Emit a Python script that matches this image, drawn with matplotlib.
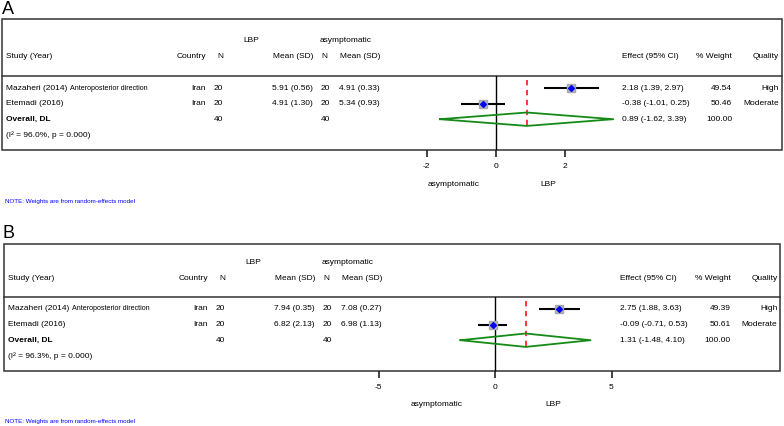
#!/usr/bin/env python3
import matplotlib
matplotlib.use('Agg')
from matplotlib import pyplot as plt
from matplotlib.patches import Rectangle

plt.rcParams['font.family'] = ['Liberation Sans', 'DejaVu Sans']
plt.rcParams['axes.unicode_minus'] = False

W, H = 784, 426

# shared study info
studies = ['Mazaheri (2014)', 'Etemadi (2016)']
subnote = ['Anteroposterior direction', '']
country = ['Iran', 'Iran']
quality = ['High', 'Moderate']
n_lbp = [20, 20]
n_asym = [20, 20]

# panel A
a_lbp_mean = [5.91, 4.91]
a_lbp_sd = [0.56, 1.30]
a_asym_mean = [4.91, 5.34]
a_asym_sd = [0.33, 0.93]
a_es = [2.18, -0.38]
a_lo = [1.39, -1.01]
a_hi = [2.97, 0.25]
a_wt = [49.54, 50.46]
a_pool = [0.89, -1.62, 3.39]
a_i2 = 96.0
a_ticks = [-2, 0, 2]

# panel B
b_lbp_mean = [7.94, 6.82]
b_lbp_sd = [0.35, 2.13]
b_asym_mean = [7.08, 6.98]
b_asym_sd = [0.27, 1.13]
b_es = [2.75, -0.09]
b_lo = [1.88, -0.71]
b_hi = [3.63, 0.53]
b_wt = [49.39, 50.61]
b_pool = [1.31, -1.48, 4.10]
b_i2 = 96.3
b_ticks = [-5, 0, 5]

FS = 6.0
ROW = 15.6


def draw_panel(fig, bg, label, lay, lbp_mean, lbp_sd, asym_mean, asym_sd,
               es, lo, hi, wt, pool, i2, ticks):
    dl, dr = lay['dl'], lay['dr']
    bg.text(2, lay['label'], label, fontsize=13, va='center', ha='left')
    # frame
    bg.add_patch(Rectangle((lay['left'], lay['top']), lay['right'] - lay['left'],
                           lay['bottom'] - lay['top'], fill=False, lw=1.1, ec='#333333'))
    bg.plot([lay['left'], lay['right']], [lay['sep'], lay['sep']], color='#333333', lw=1.1)

    # headers
    h1, h2 = lay['h1'], lay['h2']
    bg.text(243 + dl, h1, 'LBP', fontsize=FS, va='center')
    bg.text(320 + dl, h1, 'asymptomatic', fontsize=FS, va='center')
    bg.text(6 + dl, h2, 'Study (Year)', fontsize=FS, va='center')
    bg.text(206 + dl, h2, 'Country', fontsize=FS, va='center', ha='right')
    bg.text(223 + dl, h2, 'N', fontsize=FS, va='center', ha='right')
    bg.text(313 + dl, h2, 'Mean (SD)', fontsize=FS, va='center', ha='right')
    bg.text(321 + dl, h2, 'N', fontsize=FS, va='center', ha='left')
    bg.text(380 + dl, h2, 'Mean (SD)', fontsize=FS, va='center', ha='right')
    bg.text(622 + dr, h2, 'Effect (95% CI)', fontsize=FS, va='center')
    bg.text(732 + dr, h2, '% Weight', fontsize=FS, va='center', ha='right')
    bg.text(779 + dr, h2, 'Quality', fontsize=FS, va='center', ha='right')

    r0 = lay['row0']
    for i in range(len(studies)):
        y = r0 + i * ROW
        t = bg.text(6 + dl, y, studies[i] + ' ', fontsize=FS, va='center')
        if subnote[i]:
            bg.annotate(subnote[i], xy=(1, 0.5), xycoords=t, fontsize=5.1,
                        va='center', ha='left')
        bg.text(206 + dl, y, country[i], fontsize=FS, va='center', ha='right')
        bg.text(214 + dl, y, str(n_lbp[i]), fontsize=FS, va='center')
        bg.text(313 + dl, y, f'{lbp_mean[i]:.2f} ({lbp_sd[i]:.2f})', fontsize=FS,
                va='center', ha='right')
        bg.text(321 + dl, y, str(n_asym[i]), fontsize=FS, va='center')
        bg.text(380 + dl, y, f'{asym_mean[i]:.2f} ({asym_sd[i]:.2f})', fontsize=FS,
                va='center', ha='right')
        bg.text(622 + dr, y, f'{es[i]:.2f} ({lo[i]:.2f}, {hi[i]:.2f})', fontsize=FS,
                va='center')
        bg.text(732 + dr, y, f'{wt[i]:.2f}', fontsize=FS, va='center', ha='right')
        bg.text(779 + dr, y, quality[i], fontsize=FS, va='center', ha='right')

    y = r0 + 2 * ROW
    bg.text(6 + dl, y, 'Overall, DL', fontsize=FS, va='center', fontweight='bold')
    bg.text(214 + dl, y, str(sum(n_lbp)), fontsize=FS, va='center')
    bg.text(321 + dl, y, str(sum(n_asym)), fontsize=FS, va='center')
    bg.text(622 + dr, y, f'{pool[0]:.2f} ({pool[1]:.2f}, {pool[2]:.2f})', fontsize=FS,
            va='center')
    bg.text(732 + dr, y, f'{sum(wt):.2f}', fontsize=FS, va='center', ha='right')
    y = r0 + 3 * ROW
    bg.text(6 + dl, y, f'(I\u00b2 = {i2:.1f}%, p = 0.000)', fontsize=FS, va='center')

    # captions and note
    bg.text(lay['cap_asym'], lay['cap'], 'asymptomatic', fontsize=FS, va='center', ha='center')
    bg.text(lay['cap_lbp'], lay['cap'], 'LBP', fontsize=FS, va='center', ha='center')
    bg.text(5, lay['note'], 'NOTE: Weights are from random-effects model', fontsize=4.5,
            va='center', color='blue')

    # forest plot axes
    ax = fig.add_axes([0, 1 - lay['bottom'] / H, 1, (lay['bottom'] - lay['sep']) / H])
    ax.set_xlim(-lay['zero'] / lay['scale'], (W - lay['zero']) / lay['scale'])
    top_u = (lay['sep'] - r0) / ROW
    bot_u = (lay['bottom'] - r0) / ROW
    ax.set_ylim(bot_u, top_u)
    ax.patch.set_visible(False)
    for s in ax.spines.values():
        s.set_visible(False)
    ax.set_yticks([])
    ax.set_xticks(ticks)
    ax.tick_params(axis='x', direction='out', length=5.2, width=1.2, labelsize=FS,
                   pad=4, color='#222222')

    ax.axvline(0, color='black', lw=1.0)
    ax.plot([pool[0], pool[0]], [-0.5, 2.5], color='red', lw=1.1, ls=(0, (3.5, 3)))
    for i in range(len(es)):
        ax.plot([lo[i], hi[i]], [i, i], color='black', lw=1.5, solid_capstyle='butt')
        ax.plot(es[i], i, marker='s', ms=5.5, color='#b9b9b9', mec='#a8a8a8')
        ax.plot(es[i], i, marker='D', ms=3, color='blue', mec='blue')
    hh = 0.43
    ax.plot([pool[1], pool[0], pool[2], pool[0], pool[1]],
            [2, 2 - hh, 2, 2 + hh, 2], color='#168a16', lw=1.3)
    return ax


def main():
    fig = plt.figure(figsize=(W / 100, H / 100), dpi=100)
    bg = fig.add_axes([0, 0, 1, 1])
    bg.set_xlim(0, W)
    bg.set_ylim(H, 0)
    bg.axis('off')

    lay_a = dict(label=9, top=19, h1=40, h2=56, sep=76, row0=88, bottom=150,
                 left=2, right=782, cap=184, note=202, cap_asym=454, cap_lbp=548,
                 zero=496, scale=34.6, dl=0, dr=0)
    lay_b = dict(label=234, top=244, h1=263, h2=278, sep=297, row0=309, bottom=371,
                 left=4, right=780, cap=404, note=421, cap_asym=437, cap_lbp=553,
                 zero=495, scale=23.3, dl=2, dr=-1.5)

    draw_panel(fig, bg, 'A', lay_a, a_lbp_mean, a_lbp_sd, a_asym_mean, a_asym_sd,
               a_es, a_lo, a_hi, a_wt, a_pool, a_i2, a_ticks)
    draw_panel(fig, bg, 'B', lay_b, b_lbp_mean, b_lbp_sd, b_asym_mean, b_asym_sd,
               b_es, b_lo, b_hi, b_wt, b_pool, b_i2, b_ticks)

    fig.savefig('out.png', dpi=100)


if __name__ == '__main__':
    main()
